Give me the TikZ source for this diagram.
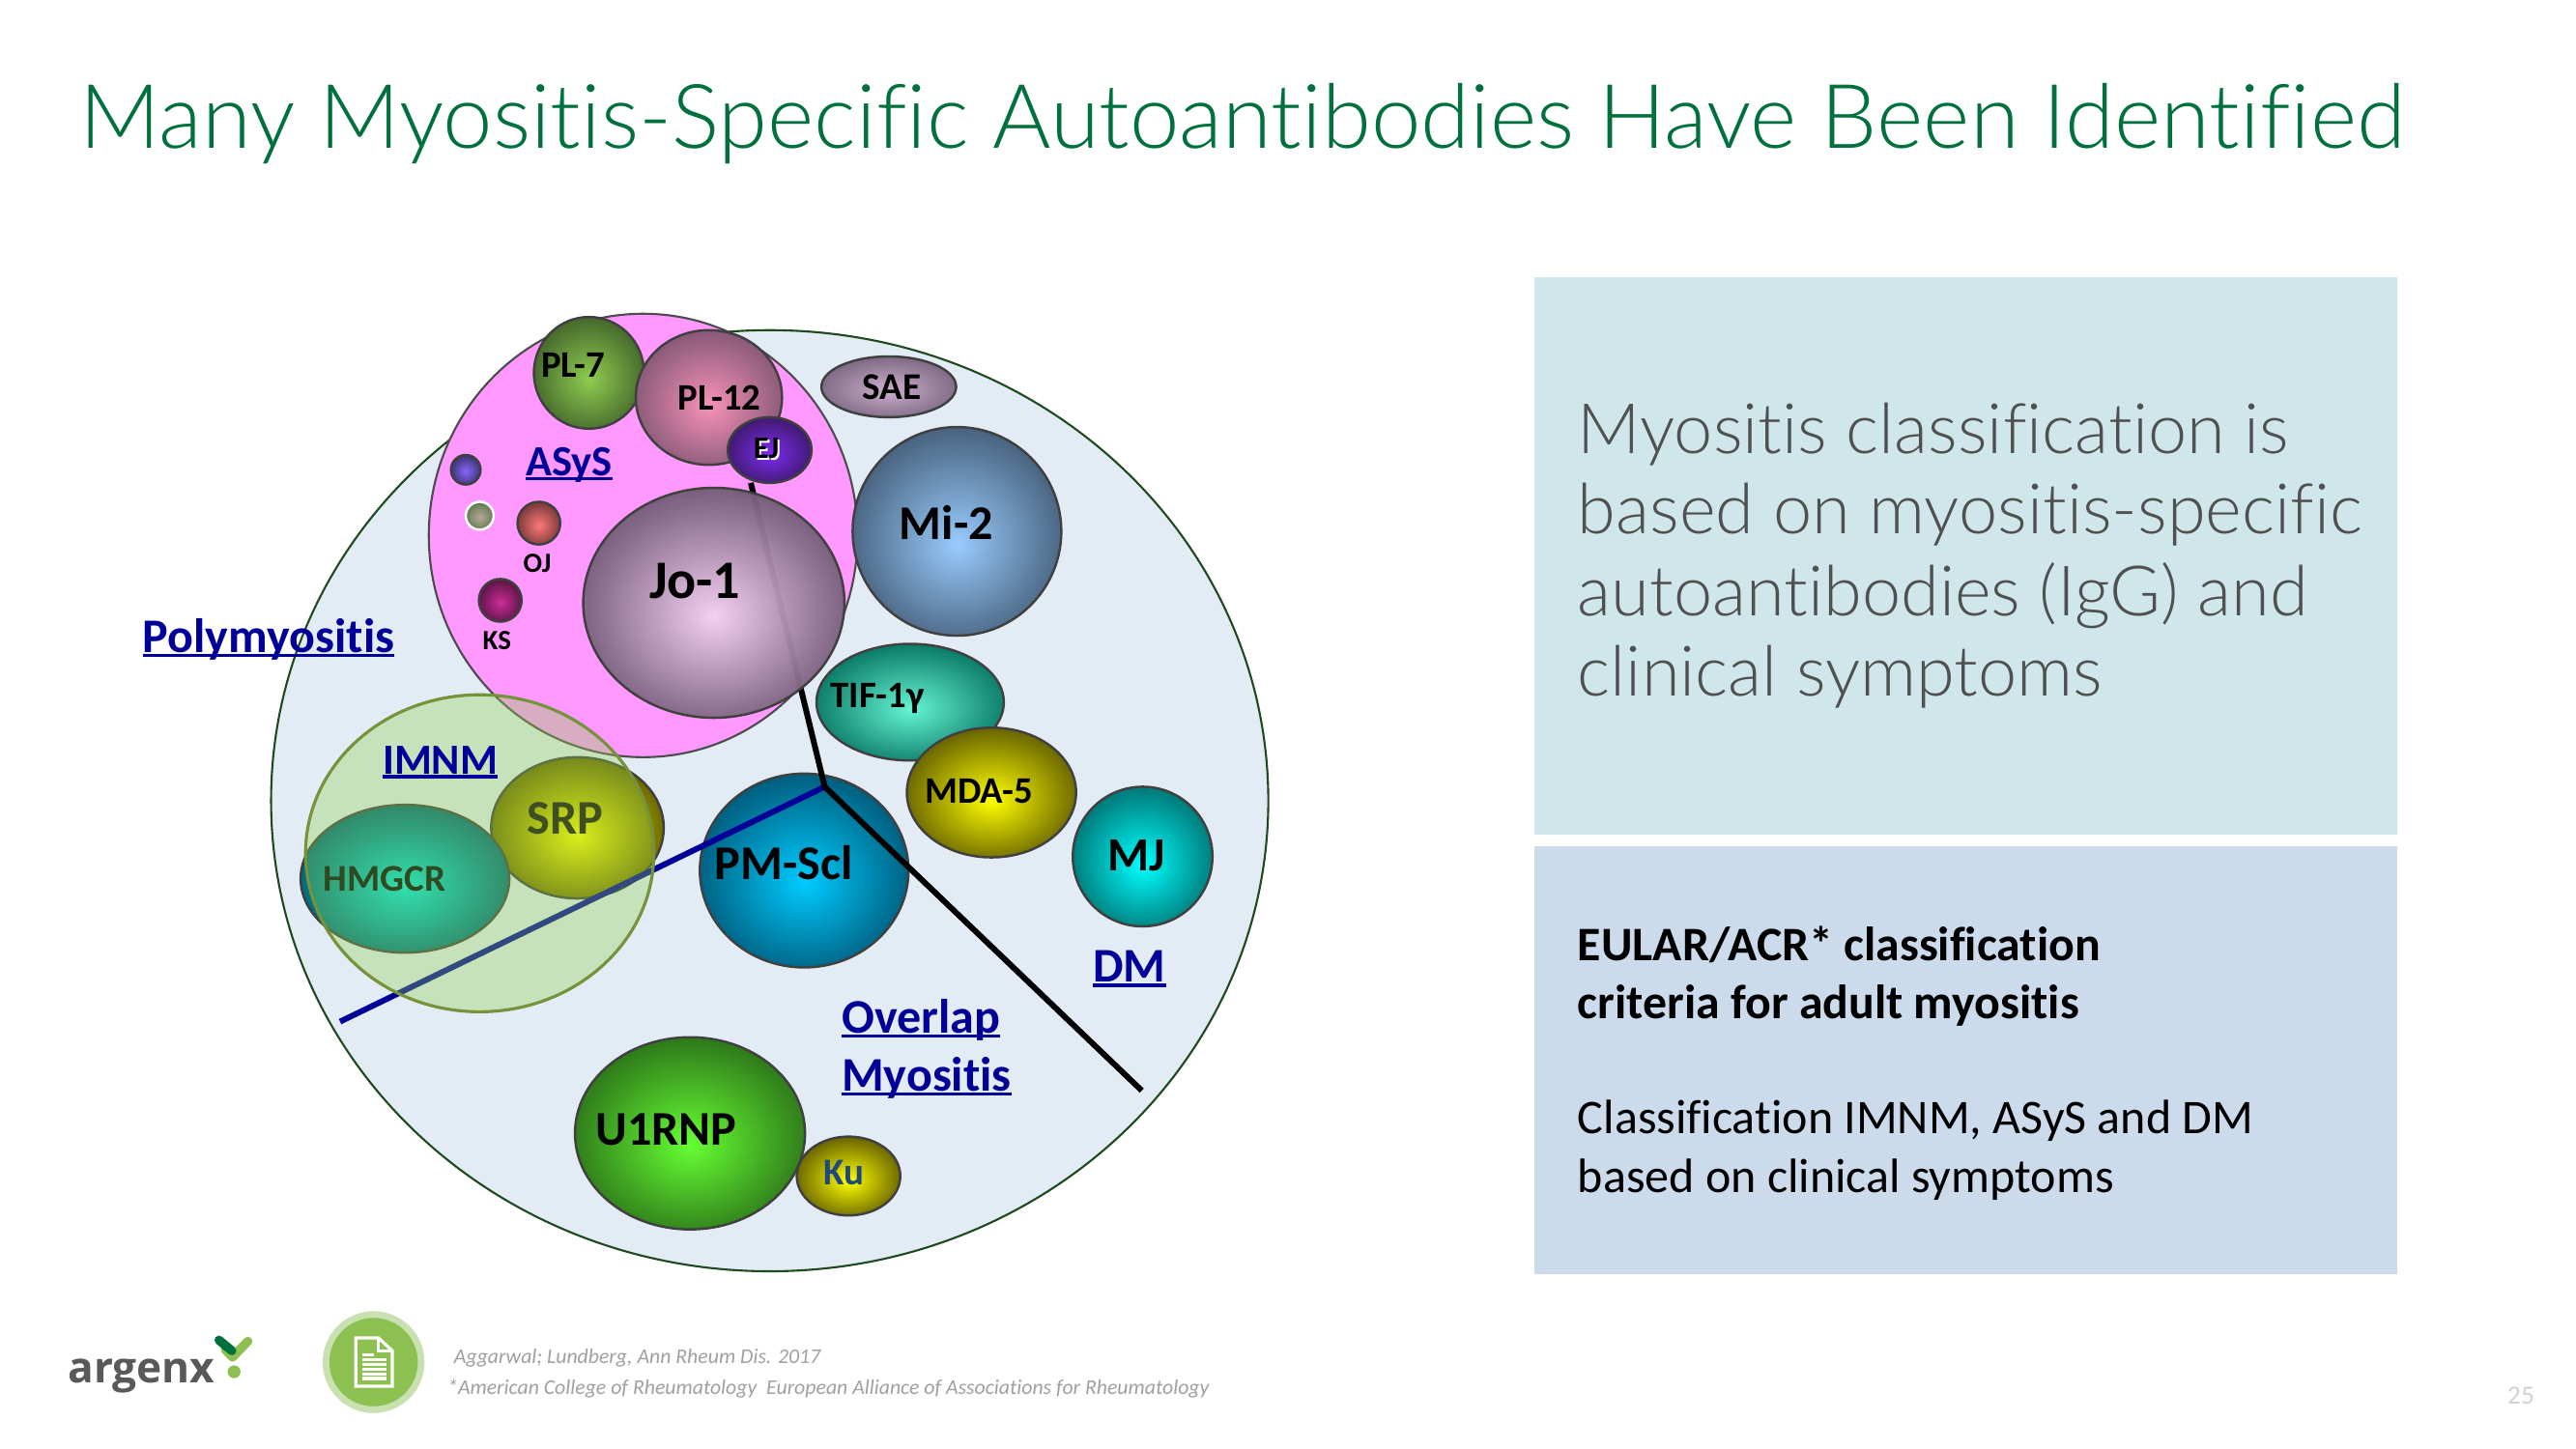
\documentclass[tikz,border=0pt]{standalone}
\usepackage{fontspec}
\usetikzlibrary{shapes.geometric}
\setmainfont{Carlito}[Ligatures={NoCommon,TeX}]
\newfontfamily\lightf{Lato Light}[Ligatures={NoCommon}]
\newfontfamily\logof{Open Sans}[BoldFont={* Bold}]
\newcommand{\fs}[1]{\fontsize{\dimexpr#1pt*4837/10000\relax}{\dimexpr#1pt*4837/10000*12/10\relax}\selectfont}
\newcommand{\ballshade}[3]{\definecolor{#1a}{HTML}{#2}\definecolor{#1b}{HTML}{#3}%
\pgfdeclareradialshading{#1}{\pgfpoint{0bp}{-3bp}}{color(0bp)=(#1a); color(26bp)=(#1b); color(50bp)=(#1b)}}
\ballshade{sPLseven}{90CC50}{466A2C}
\ballshade{sPLtw}{F792B8}{8A5A78}
\ballshade{sEJ}{7F2CF0}{3F1A70}
\ballshade{sSAE}{CDAFCF}{7F6A84}
\ballshade{sMi}{99CCFF}{4A6480}
\ballshade{sJo}{F3CFF0}{7A5F7F}
\ballshade{sPur}{8866FF}{3C3470}
\ballshade{sOli}{B5A89A}{5F7A50}
\ballshade{sOJ}{FF7777}{7A3A3A}
\ballshade{sKS}{CC2C99}{5A1545}
\ballshade{sTIF}{66F4D4}{0C7C68}
\ballshade{sMDA}{FFFF00}{6B6600}
\ballshade{sMJ}{00FFFF}{007A7A}
\ballshade{sPM}{00CCFF}{005F80}
\ballshade{sSRP}{FFFF00}{6B6600}
\ballshade{sHMG}{00E8E0}{006579}
\ballshade{sUR}{66FF33}{2F7A1A}
\ballshade{sKu}{FFFF00}{6B6600}
\definecolor{titlegreen}{HTML}{00703C}
\definecolor{labelblue}{HTML}{000099}
\definecolor{bigfill}{HTML}{E3ECF5}
\definecolor{bigline}{HTML}{1F4A1F}
\definecolor{asys}{HTML}{FF99FF}
\definecolor{imnmfill}{HTML}{92D050}
\definecolor{imnmline}{HTML}{76933C}
\definecolor{boxa}{HTML}{CFE7EB}
\definecolor{boxb}{HTML}{CBDBEC}
\definecolor{bodygrey}{HTML}{505050}
\definecolor{logogrey}{HTML}{58595B}
\definecolor{refgrey}{HTML}{A0A0A0}
\definecolor{markdark}{HTML}{00703C}
\definecolor{marklight}{HTML}{8CC152}
\definecolor{iconout}{HTML}{C9E0B0}
\definecolor{kutext}{HTML}{1F497D}
\definecolor{srptext}{HTML}{3F4F1F}
\definecolor{hmgtext}{HTML}{2F4A20}
\tikzset{
 ball/.style args={#1 #2 #3}{ellipse,inner sep=0pt,minimum width=#2*0.017003cm,minimum height=#3*0.017003cm,draw=black!75,line width=0.7pt,shading=#1},
 blbl/.style={font=\fs{#1}\bfseries,inner sep=0pt},
 tag/.style={font=\fs{29.4}\bfseries,inner sep=0pt,text=labelblue},
 tagsmall/.style={font=\fs{26.2}\bfseries,inner sep=0pt,text=labelblue},
 bodyline/.style={anchor=base west,inner sep=0pt,text=bodygrey,font=\lightf\fs{42.4}},
 boldline/.style={anchor=base west,inner sep=0pt,font=\fs{29.3}\bfseries},
 plainline/.style={anchor=base west,inner sep=0pt,font=\fs{29.4}},
 refline/.style={anchor=base west,inner sep=0pt,text=refgrey,font=\fs{12.8}\itshape},
}
\newsavebox\ulbox
\newcommand{\ul}[1]{\sbox\ulbox{#1}\rlap{\rule[-0.1em]{\wd\ulbox}{0.07em}}\usebox\ulbox}
\begin{document}
\begin{tikzpicture}[x=0.017003cm,y=-0.017003cm]
\useasboundingbox (0,0) rectangle (1568,882.2);
\fill[white] (0,0) rectangle (1568,882.2);
% title
\node[anchor=base west,inner sep=0pt,text=titlegreen,font=\lightf\fs{54.3}] (title) at (48,90) {Many Myositis-Specific Autoantibodies Have Been Identified};
% big circle
\node[ellipse,inner sep=0pt,minimum width=607*0.017003cm,minimum height=573*0.017003cm,draw=bigline,line width=0.6pt,fill=bigfill] (big) at (468.5,487.5) {};
\node[ellipse,inner sep=0pt,minimum width=261*0.017003cm,minimum height=270*0.017003cm,draw=black!70,line width=0.6pt,fill=asys] (asysE) at (391.5,326) {};
\coordinate (ljtop) at (457,294);
\coordinate (apex) at (502,479);
\coordinate (ljend) at (695,664);
\coordinate (lbend) at (207,622);
% balls under lines
\node[ball=sPM 127 118] (pm) at (489.5,530) {};
\node[ball=sSRP 105 86] (srp) at (351.5,504) {};
\node[ball=sHMG 127 90] (hmg) at (246.5,535) {};
\draw[labelblue,line width=1.7pt] (lbend) -- (apex);
\draw[black,line width=1.7pt,line join=round] (ljtop) -- (apex) -- (ljend);
% balls
\node[ball=sPLseven 67 68] (pl7) at (358.5,227) {};
\node[ball=sPLtw 89 82] (pl12) at (431.5,242) {};
\node[ball=sEJ 51 40] (ej) at (468.5,274) {};
\node[ball=sSAE 82 37] (sae) at (541,235.5) {};
\node[ball=sMi 127 127] (mi) at (582.5,323.5) {};
\node[ball=sJo 159 140] (jo) at (434.5,367) {};
\draw[black,opacity=0.06,line width=1.7pt] (ljtop) -- (apex);
\node[ball=sPur 18 18] (pur) at (283.5,286) {};
\node[ball=sOli 17 17,draw=white] (oli) at (292,314) {};
\node[ball=sOJ 26 26] (oj) at (328,318.5) {};
\node[ball=sKS 26 26] (ks) at (304.5,365.5) {};
\node[ball=sTIF 114 71] (tif) at (554,427.5) {};
\node[ball=sMDA 103 79] (mda) at (603.5,482.5) {};
\node[ball=sMJ 85 85] (mj) at (695.5,521.5) {};
\node[ball=sUR 140 117] (ur) at (420,690) {};
\node[ball=sKu 63 48] (ku) at (516.5,716) {};
% IMNM overlay
\node[ellipse,inner sep=0pt,minimum width=212*0.017003cm,minimum height=193*0.017003cm,fill=imnmfill,fill opacity=0.35,draw=imnmline,line width=0.9pt] (imnmE) at (292,519.5) {};
% ball labels
\node[blbl=22.8] (tpl7) at (349,222) {PL-7};
\node[blbl=22.8] (tpl12) at (438,242) {PL-12};
\node[blbl=19,text=black] (tej) at (466.5,273.5) {\rlap{\kern0.06em\raisebox{-0.06em}{\textcolor{white}{EJ}}}EJ};
\node[blbl=23] (tsae) at (543,236) {SAE};
\node[blbl=29.5] (tmi) at (576,318) {Mi-2};
\node[blbl=33] (tjo) at (423,354) {Jo-1};
\node[blbl=17] (toj) at (327,343) {OJ};
\node[blbl=17] (tks) at (302.5,390) {KS};
\node[blbl=22.8] (ttif) at (534,425) {TIF-1γ};
\node[blbl=22.8] (tmda) at (596,482) {MDA-5};
\node[blbl=29] (tmj) at (692,521) {MJ};
\node[blbl=29.5,text=black] (tpm) at (477,525) {PM-Scl};
\node[blbl=29.5,text=srptext] (tsrp) at (344,498) {SRP};
\node[blbl=23,text=hmgtext] (thmg) at (234,535) {HMGCR};
\node[blbl=29.5] (tur) at (405.5,688) {U1RNP};
\node[blbl=23,text=kutext] (tku) at (514,714) {Ku};
% category labels
\node[tag] (tpoly) at (163.5,389) {\ul{Polymyositis}};
\node[tagsmall] (tasys) at (346.5,283) {\ul{ASyS}};
\node[tagsmall] (timnm) at (268,464) {\ul{IMNM}};
\node[tag] (tdm) at (687.5,590) {\ul{DM}};
\node[tag,anchor=west] (tover) at (512,621) {\ul{Overlap}};
\node[tag,anchor=west] (tmyo) at (512,656) {\ul{Myositis}};
% right boxes
\fill[boxa] (934,169) rectangle (1459,508);
\fill[boxb] (934,515) rectangle (1459,776);
\node[bodyline] (ra) at (960,276) {Myositis classification is};
\node[bodyline] (rb) at (960,325) {based on myositis-specific};
\node[bodyline] (rc) at (960,375) {autoantibodies (IgG) and};
\node[bodyline] (rd) at (960,424) {clinical symptoms};
\node[boldline] (sa) at (960,585) {EULAR/ACR* classification};
\node[boldline] (sb) at (960,620) {criteria for adult myositis};
\node[plainline] (sc) at (960,690) {Classification IMNM, ASyS and DM};
\node[plainline] (sd) at (960,726) {based on clinical symptoms};
% footer
\node[anchor=base west,inner sep=0pt,text=logogrey,font=\logof\bfseries\fs{26}] (logo) at (41,842) {argenx};
\coordinate (ma) at (137.2,821.8);
\coordinate (mb) at (141.5,826.3);
\coordinate (mc) at (150.9,816.6);
\coordinate (md) at (133.3,815.9);
\coordinate (me) at (141.1,822.4);
\draw[marklight,line width=2.66pt,line join=round,line cap=round] (ma) -- (mb) -- (mc);
\draw[markdark,line width=2.66pt,line cap=round] (md) -- (me);
\fill[marklight] (142.5,835.2) circle (3.9);
\node[circle,inner sep=0pt,minimum size=62*0.017003cm,fill=iconout] (iconO) at (227.4,829.3) {};
\node[circle,inner sep=0pt,minimum size=53.8*0.017003cm,fill=marklight] (iconI) at (227.4,829.3) {};
\draw[white,line width=0.9pt,line join=miter] (216.6,814.6) -- (230.4,814.6) -- (238.8,822.4) -- (238.8,844) -- (216.6,844) -- cycle;
\draw[white,line width=0.8pt] (230.4,814.6) -- (230.4,822.4) -- (238.8,822.4);
\draw[white,line width=0.9pt] (220.7,824.7) -- (227.7,824.7) (220.7,827.7) -- (235.3,827.7) (220.7,830.9) -- (235.3,830.9) (220.7,833.6) -- (235.3,833.6) (220.7,836.5) -- (235.3,836.5) (220.7,839.3) -- (235.3,839.3);
\node[refline] (ref1) at (276,830) {Aggarwal; Lundberg, Ann Rheum Dis. 2017};
\node[refline] (ref2) at (272,849) {*American College of Rheumatology\ \ European Alliance of Associations for Rheumatology};
\node[anchor=base east,inner sep=0pt,text=black!18,font=\fs{16}] (pg) at (1543,855) {25};
\end{tikzpicture}
\end{document}
